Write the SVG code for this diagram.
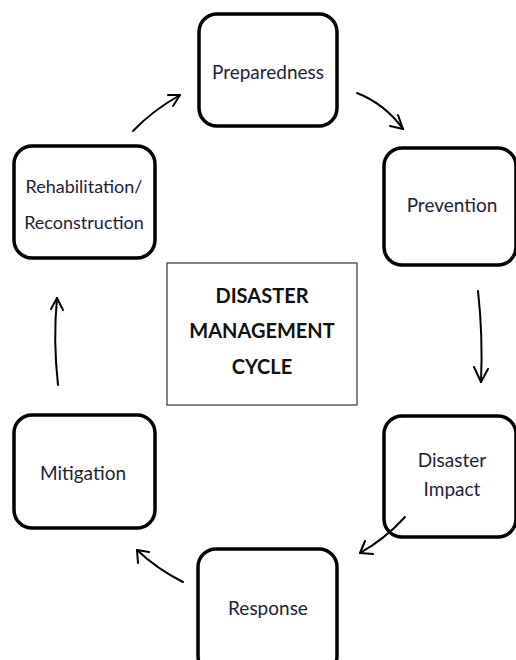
<svg xmlns="http://www.w3.org/2000/svg" width="516" height="660" viewBox="0 0 516 660">
<style>
.node rect{fill:#fff;stroke:#000;stroke-width:3.5}
.lbl{font-family:Lato,"Open Sans","Liberation Sans",sans-serif;font-size:19px;fill:#1e2235;text-anchor:middle;dominant-baseline:central}
.sm{font-size:18px}
.title{font-family:Lato,"Open Sans","Liberation Sans",sans-serif;font-size:20px;font-weight:bold;fill:#111;text-anchor:middle;dominant-baseline:central}
.conn path{fill:none;stroke:#000;stroke-width:2;stroke-linecap:round;stroke-linejoin:round}
</style>
<rect width="516" height="660" fill="#fff"/>
<g id="center">
<rect x="167" y="263" width="190" height="142" fill="#fff" stroke="#333" stroke-width="1.2"/>
<text class="title" x="262" y="295">DISASTER</text>
<text class="title" x="262" y="330">MANAGEMENT</text>
<text class="title" x="262" y="366">CYCLE</text>
</g>
<g id="preparedness" class="node">
<rect x="199" y="14" width="138" height="112" rx="18"/>
<text class="lbl" x="268" y="71">Preparedness</text>
</g>
<g id="prevention" class="node">
<rect x="384" y="148" width="132" height="117" rx="18"/>
<text class="lbl" x="452" y="204">Prevention</text>
</g>
<g id="disaster-impact" class="node">
<rect x="384" y="416" width="132" height="121" rx="18"/>
<text class="lbl" x="452" y="459">Disaster</text>
<text class="lbl" x="452" y="488">Impact</text>
</g>
<g id="response" class="node">
<rect x="198" y="549" width="139" height="125" rx="18"/>
<text class="lbl" x="268" y="607">Response</text>
</g>
<g id="mitigation" class="node">
<rect x="14" y="415" width="141" height="113" rx="18"/>
<text class="lbl" x="83" y="472">Mitigation</text>
</g>
<g id="rehabilitation" class="node">
<rect x="14" y="146" width="141" height="112" rx="18"/>
<text class="lbl sm" x="84" y="186">Rehabilitation/</text>
<text class="lbl sm" x="84" y="222">Reconstruction</text>
</g>
<g id="connectors" class="conn">
<path d="M133,131 Q152,111 180,95"/>
<path d="M168,95 L180,95 L173,106"/>
<path d="M357,93 Q385,104 403,129"/>
<path d="M398,115 L403,129 L390,126"/>
<path d="M478,291 Q483,335 481,382"/>
<path d="M474,367 L481,382 L488,369"/>
<path d="M405,517 Q385,539 360,553"/>
<path d="M365,541 L360,553 L373,554"/>
<path d="M183,582 Q157,569 137,550"/>
<path d="M138,563 L137,550 L149,552"/>
<path d="M58,385 Q53,340 57,298"/>
<path d="M51,309 L57,298 L63,310"/>
</g>
</svg>
